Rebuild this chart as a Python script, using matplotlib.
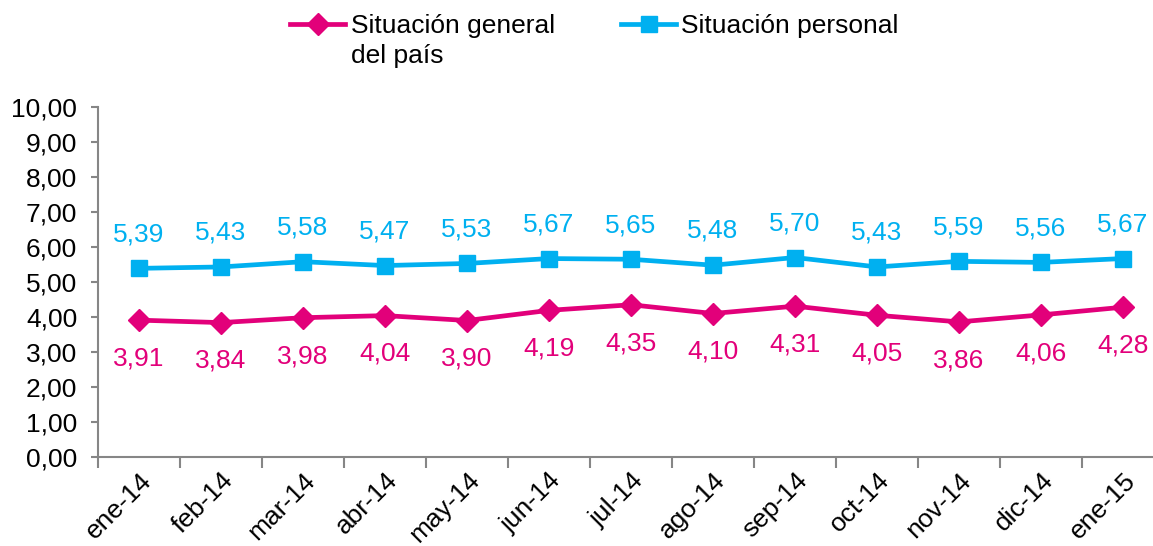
import matplotlib.pyplot as plt
from matplotlib.ticker import FuncFormatter, FixedLocator

plt.rcParams['font.family'] = ['Liberation Sans', 'DejaVu Sans']

months = ['ene-14', 'feb-14', 'mar-14', 'abr-14', 'may-14', 'jun-14', 'jul-14',
          'ago-14', 'sep-14', 'oct-14', 'nov-14', 'dic-14', 'ene-15']
general = [3.91, 3.84, 3.98, 4.04, 3.90, 4.19, 4.35, 4.10, 4.31, 4.05, 3.86, 4.06, 4.28]
personal = [5.39, 5.43, 5.58, 5.47, 5.53, 5.67, 5.65, 5.48, 5.70, 5.43, 5.59, 5.56, 5.67]

pink = '#E2007A'
blue = '#00B0F0'
grey = '#868686'
fs = 19

fig = plt.figure(figsize=(11.53, 5.46), dpi=100)
ax = fig.add_axes([98/1153, 89/546, 1066/1153, 350/546])

x = list(range(len(months)))
l1, = ax.plot(x, general, color=pink, linewidth=3.4, marker='D', markersize=11,
              label='Situación general', clip_on=False)
l2, = ax.plot(x, personal, color=blue, linewidth=3.4, marker='s', markersize=12,
              label='Situación personal', clip_on=False)

fmt = lambda v: f'{v:.2f}'.replace('.', ',')
for xi, v in zip(x, general):
    ax.annotate(fmt(v), (xi, v), xytext=(0, -19), textcoords='offset points',
                ha='center', va='top', color=pink, fontsize=fs)
for xi, v in zip(x, personal):
    ax.annotate(fmt(v), (xi, v), xytext=(0, 16), textcoords='offset points',
                ha='center', va='bottom', color=blue, fontsize=fs)

ax.set_xlim(-0.5, len(months) - 0.5)
ax.set_ylim(0, 10)
ax.set_yticks(range(0, 11))
ax.yaxis.set_major_formatter(FuncFormatter(lambda v, p: fmt(v)))
ax.set_xticks(x)
ax.set_xticklabels(months, rotation=45, ha='right', rotation_mode='anchor')
ax.tick_params(axis='x', which='major', length=0, labelsize=fs, pad=8)
ax.xaxis.set_minor_locator(FixedLocator([i - 0.5 for i in range(len(months) + 1)]))
ax.tick_params(axis='x', which='minor', length=8, width=1.5, color=grey)
ax.tick_params(axis='y', length=5, width=1.5, color=grey, labelsize=fs, pad=10)

for s in ['top', 'right']:
    ax.spines[s].set_visible(False)
for s in ['left', 'bottom']:
    ax.spines[s].set_color(grey)
    ax.spines[s].set_linewidth(1.5)

leg = fig.legend(handles=[l1, l2], loc='upper left', bbox_to_anchor=(290/1153, 1 - 14/546),
                 ncol=2, frameon=False, fontsize=fs, handlelength=2.1, handletextpad=0.2,
                 columnspacing=2.5, borderaxespad=0, borderpad=0)

# second line of the first legend label, aligned under the first line
fig.canvas.draw()
bb = leg.get_texts()[0].get_window_extent().transformed(fig.transFigure.inverted())
fig.text(bb.x0, bb.y0 - 30/546, 'del país', fontsize=fs, ha='left', va='bottom')

fig.savefig('out.png', dpi=100)
